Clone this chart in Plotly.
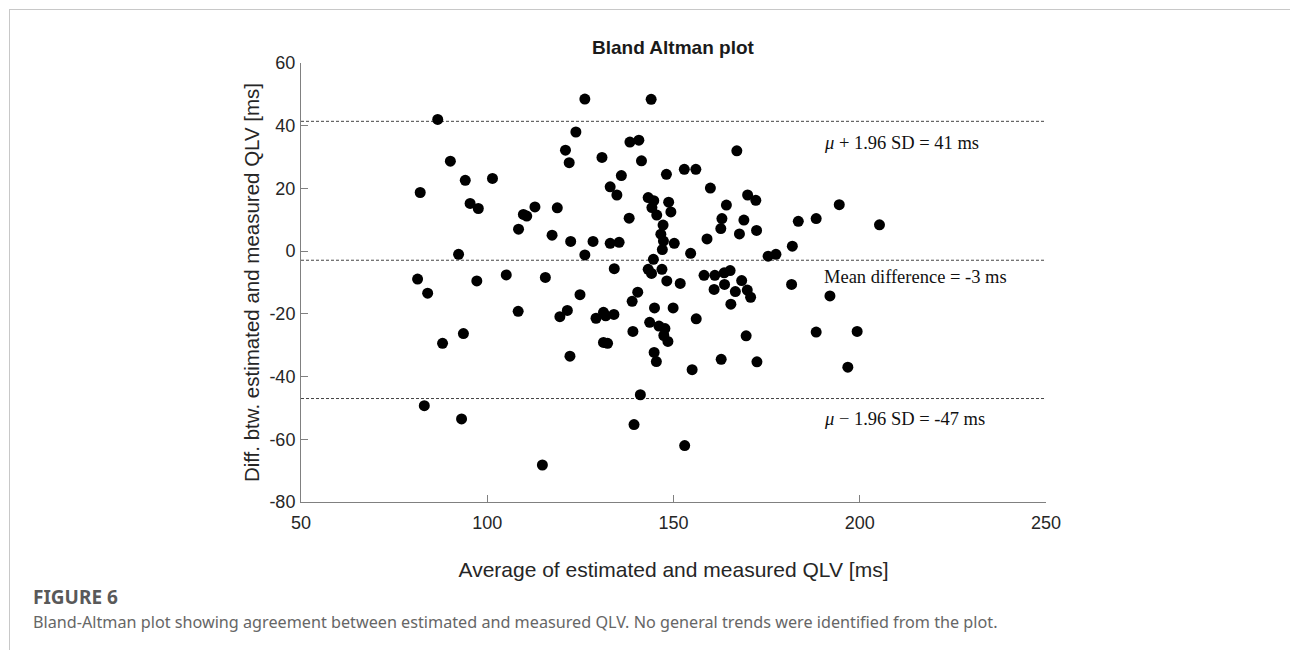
import plotly.graph_objects as go

# Average of estimated and measured QLV [ms]
avg_qlv = [
    86.7, 90.1, 82.0, 94.1, 101.4, 95.4, 97.6, 112.8, 109.7, 110.6, 108.4, 117.4,
    92.3, 81.3, 97.2, 105.1, 115.6, 84.0, 108.3, 93.6, 88.0, 83.1, 93.1, 114.8,
    126.2, 144.0, 123.8, 121.0, 122.0, 130.8, 138.3, 140.7, 141.4, 167.0, 136.0,
    148.1, 152.9, 156.0, 159.9, 133.0, 134.8, 143.2, 144.7, 148.7, 149.3, 144.2,
    145.5, 138.1, 164.2, 169.9, 172.1, 163.0, 162.7, 168.9, 167.7, 172.3, 183.5,
    147.2, 146.6, 147.3, 150.2, 147.0, 159.0, 154.6, 181.9, 175.4, 177.5, 122.4,
    128.4, 133.0, 135.4, 126.2, 118.8, 144.6, 134.1, 143.2, 144.1, 146.9, 148.2,
    151.8, 158.2, 161.1, 163.6, 165.2, 168.3, 160.9, 163.7, 166.6, 169.8, 170.7,
    165.4, 181.7, 124.9, 121.5, 119.5, 129.2, 131.2, 131.8, 134.0, 131.2, 132.3,
    122.2, 140.4, 138.9, 139.1, 144.9, 149.9, 143.6, 146.1, 147.7, 147.4, 148.5,
    144.8, 145.4, 156.1, 155.0, 162.8, 169.5, 172.4, 141.1, 139.4, 153.0,
    188.3, 194.5, 205.3, 192.0, 188.3, 199.3, 196.8,
]
# Difference between estimated and measured QLV [ms]
diff_qlv = [
    42.0, 28.7, 18.7, 22.6, 23.2, 15.2, 13.6, 14.1, 11.7, 11.2, 7.0, 5.1,
    -1.0, -8.9, -9.5, -7.6, -8.4, -13.4, -19.2, -26.3, -29.4, -49.3, -53.5, -68.2,
    48.5, 48.4, 38.0, 32.2, 28.2, 29.9, 34.8, 35.4, 28.8, 32.0, 24.1,
    24.5, 26.1, 26.1, 20.1, 20.5, 17.9, 17.1, 16.1, 15.6, 12.5, 13.9,
    11.5, 10.5, 14.7, 17.9, 16.2, 10.4, 7.2, 9.9, 5.5, 6.6, 9.5,
    8.3, 5.4, 3.2, 2.5, 0.5, 3.9, -0.7, 1.6, -1.6, -1.0, 3.1,
    3.1, 2.5, 2.8, -1.2, 13.8, -2.6, -5.6, -5.8, -7.1, -5.8, -9.5,
    -10.3, -7.7, -7.7, -6.9, -6.2, -9.4, -12.2, -10.6, -12.9, -12.4, -14.7,
    -16.9, -10.6, -13.9, -18.9, -20.9, -21.4, -19.5, -20.6, -20.2, -29.1, -29.4,
    -33.5, -13.1, -16.0, -25.6, -18.1, -18.1, -22.7, -23.9, -24.7, -26.9, -28.8,
    -32.3, -35.2, -21.6, -37.8, -34.5, -27.0, -35.3, -45.8, -55.3, -62.0,
    10.4, 14.8, 8.4, -14.3, -25.8, -25.6, -37.0,
]

x_limits = [50, 250]
y_limits = [-80, 60]
x_ticks = [50, 100, 150, 200, 250]
x_tick_labels = ["50", "100", "150", "200", "250"]
y_ticks = [-80, -60, -40, -20, 0, 20, 40, 60]
y_tick_labels = ["-80", "-60", "-40", "-20", "0", "20", "40", "60"]

mean_diff = -2.9
upper_loa = 41.4
lower_loa = -47.0
line_labels = [
    "<i>μ</i> + 1.96 SD = 41 ms",
    "Mean difference = -3 ms",
    "<i>μ</i> − 1.96 SD = -47 ms",
]
label_y = [34.4, -8.3, -53.6]
label_x = 189.8

fig = go.Figure()

for yv in [upper_loa, mean_diff, lower_loa]:
    fig.add_trace(go.Scatter(
        x=x_limits, y=[yv, yv], mode="lines",
        line=dict(color="#444444", width=1, dash="3px,2px"),
        hoverinfo="skip", showlegend=False,
    ))

fig.add_trace(go.Scatter(
    x=avg_qlv, y=diff_qlv, mode="markers",
    marker=dict(color="black", size=11, line=dict(width=0)),
    showlegend=False,
))

for txt, yv in zip(line_labels, label_y):
    fig.add_annotation(
        x=label_x, y=yv, xref="x", yref="y", text=txt, showarrow=False,
        xanchor="left", yanchor="middle",
        font=dict(family="Liberation Serif", size=18.5, color="#111111"),
    )

# Title
fig.add_annotation(
    x=0.5, y=(502 - 47) / 439, xref="paper", yref="paper",
    text="<b>Bland Altman plot</b>", showarrow=False,
    xanchor="center", yanchor="middle",
    font=dict(family="Liberation Sans", size=19, color="#1a1a1a"),
)

# Caption
fig.add_annotation(
    x=(31 - 301) / 745, y=(502 - 597) / 439, xref="paper", yref="paper",
    text="<b>FIGURE 6</b>", showarrow=False, xanchor="left", yanchor="middle",
    font=dict(family="Noto Sans", size=19, color="#595959"),
)
fig.add_annotation(
    x=(31 - 301) / 745, y=(502 - 622) / 439, xref="paper", yref="paper",
    text="Bland-Altman plot showing agreement between estimated and measured QLV. "
         "No general trends were identified from the plot.",
    showarrow=False, xanchor="left", yanchor="middle",
    font=dict(family="Noto Sans", size=16.2, color="#666666"),
)

# Frame lines of the figure panel
fig.add_shape(type="line", xref="paper", yref="paper",
              x0=(9 - 301) / 745, x1=(1290 - 301) / 745,
              y0=(502 - 9.5) / 439, y1=(502 - 9.5) / 439,
              line=dict(color="#c8c8c8", width=1))
fig.add_shape(type="line", xref="paper", yref="paper",
              x0=(9.5 - 301) / 745, x1=(9.5 - 301) / 745,
              y0=(502 - 9) / 439, y1=(502 - 650) / 439,
              line=dict(color="#c8c8c8", width=1))

axis_common = dict(
    showgrid=False, zeroline=False, showline=True, linecolor="#808080",
    linewidth=1, ticks="inside", ticklen=7, tickcolor="#808080",
    tickfont=dict(family="Liberation Sans", size=18, color="#262626"),
    mirror=False,
)

fig.update_layout(
    width=1290, height=650,
    margin=dict(l=301, r=244, t=63, b=148),
    paper_bgcolor="white", plot_bgcolor="white",
    xaxis=dict(range=x_limits, tickvals=x_ticks, ticktext=x_tick_labels,
               ticklabelstandoff=4,
               title=dict(text="Average of estimated and measured QLV [ms]",
                          font=dict(family="Liberation Sans", size=21, color="#262626"),
                          standoff=30),
               **axis_common),
    yaxis=dict(range=y_limits, tickvals=y_ticks, ticktext=y_tick_labels,
               ticklabelstandoff=1,
               title=dict(text="Diff. btw. estimated and measured QLV [ms]",
                          font=dict(family="Liberation Sans", size=20.5, color="#262626"),
                          standoff=4),
               **axis_common),
)

fig.write_html("out.html")
